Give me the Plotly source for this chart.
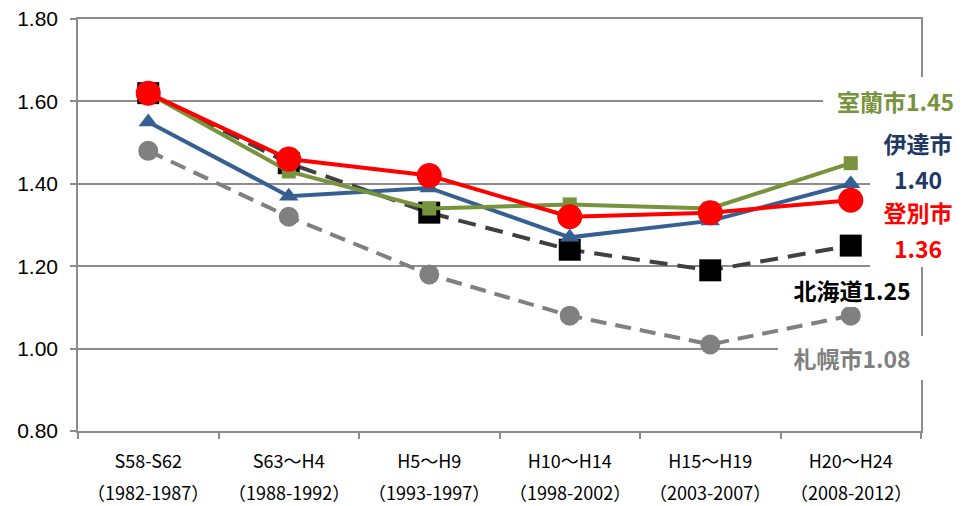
import plotly.graph_objects as go

periods = ["S58-S62", "S63～H4", "H5～H9", "H10～H14", "H15～H19", "H20～H24"]
years = ["（1982-1987）", "（1988-1992）", "（1993-1997）", "（1998-2002）", "（2003-2007）", "（2008-2012）"]

sapporo = [1.48, 1.32, 1.18, 1.08, 1.01, 1.08]
hokkaido = [1.62, 1.45, 1.33, 1.24, 1.19, 1.25]
date_city = [1.55, 1.37, 1.39, 1.27, 1.31, 1.40]
muroran = [1.62, 1.43, 1.34, 1.35, 1.34, 1.45]
noboribetsu = [1.62, 1.46, 1.42, 1.32, 1.33, 1.36]

GRID = "#8c8c8c"
JP = "Noto Sans CJK JP"

fig = go.Figure()
fig.add_trace(go.Scatter(x=periods, y=sapporo, mode="lines+markers", name="札幌市",
                         line=dict(color="#808080", width=4, dash="16px,9px"),
                         marker=dict(symbol="circle", size=20, color="#808080")))
fig.add_trace(go.Scatter(x=periods, y=hokkaido, mode="lines+markers", name="北海道",
                         line=dict(color="#404040", width=4, dash="18px,10px"),
                         marker=dict(symbol="square", size=22, color="#000000")))
fig.add_trace(go.Scatter(x=periods, y=date_city, mode="lines+markers", name="伊達市",
                         line=dict(color="#376092", width=4),
                         marker=dict(symbol="triangle-up", size=17, color="#376092")))
fig.add_trace(go.Scatter(x=periods, y=muroran, mode="lines+markers", name="室蘭市",
                         line=dict(color="#77933C", width=4),
                         marker=dict(symbol="square", size=14, color="#77933C")))
fig.add_trace(go.Scatter(x=periods, y=noboribetsu, mode="lines+markers", name="登別市",
                         line=dict(color="#FF0000", width=4),
                         marker=dict(symbol="circle", size=25, color="#FF0000")))

L, R, T, B = 78, 41, 19, 75
W, H = 962, 506
PW = W - L - R
PH = H - T - B


def px_x(px):
    return (px - L) / PW


def px_y(py):
    return 1 - (py - T) / PH


def label(text, color, x0, x1, y0, y1, size=23):
    fig.add_annotation(text="<b>%s</b>" % text, xref="paper", yref="paper",
                       x=px_x((x0 + x1) / 2), y=px_y((y0 + y1) / 2),
                       xanchor="center", yanchor="middle", showarrow=False,
                       width=x1 - x0, height=y1 - y0, bgcolor="white",
                       borderpad=0, borderwidth=0,
                       font=dict(family=JP, size=size, color=color))


label("室蘭市%.2f" % muroran[-1], "#77933C", 823, 968, 77, 125)
label("伊達市", "#1F3864", 870, 966, 125, 161)
label("%.2f" % date_city[-1], "#1F3864", 870, 966, 161, 196)
label("登別市", "#FF0000", 870, 966, 196, 228)
label("%.2f" % noboribetsu[-1], "#FF0000", 870, 966, 228, 267)
label("北海道%.2f" % hokkaido[-1], "#000000", 785, 919, 272, 307)
label("札幌市%.2f" % sapporo[-1], "#808080", 778, 926, 336, 380)

# second line of the category labels (years)
for p, yr in zip(periods, years):
    fig.add_annotation(text=yr, xref="x", yref="paper", x=p, y=px_y(492),
                       xanchor="center", yanchor="middle", showarrow=False,
                       font=dict(family=JP, size=18, color="#000000"))

fig.update_layout(
    width=W, height=H,
    margin=dict(l=L, r=R, t=T, b=B),
    plot_bgcolor="white", paper_bgcolor="white",
    showlegend=False,
    xaxis=dict(type="category", range=[-0.5, 5.5], showgrid=False, zeroline=False,
               showline=True, linecolor=GRID, linewidth=1.5, mirror=True,
               ticks="outside", tickson="boundaries", ticklen=6, tickcolor=GRID, tickwidth=1.5,
               tickfont=dict(family=JP, size=18, color="#000000"),
               ticklabelstandoff=14, automargin=False),
    yaxis=dict(range=[0.8, 1.8], dtick=0.2, tick0=0.8, tickformat=".2f",
               showgrid=True, gridcolor=GRID, gridwidth=1.5, zeroline=False,
               showline=True, linecolor=GRID, linewidth=1.5, mirror=True,
               ticks="outside", ticklen=6, tickcolor=GRID, tickwidth=1.5,
               tickfont=dict(family="Liberation Sans", size=21, color="#000000"),
               ticklabelstandoff=8, automargin=False),
)

fig.write_html("out.html", config={"displayModeBar": False},
               post_script="document.body.style.margin='0';document.body.style.padding='0';")
